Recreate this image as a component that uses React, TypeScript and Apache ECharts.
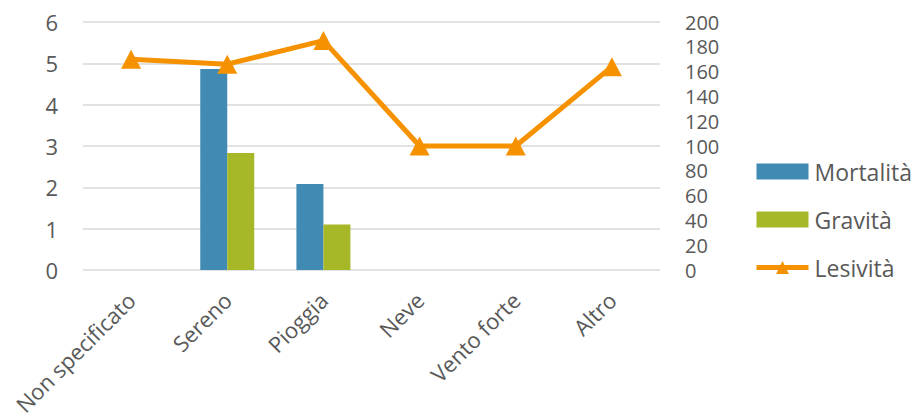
import React, { useEffect, useRef } from "react";
import * as echarts from "echarts";

const categories = ["Non specificato", "Sereno", "Pioggia", "Neve", "Vento forte", "Altro"];
const mortalita = [null, 4.86, 2.08, null, null, null];
const gravita = [null, 2.83, 1.1, null, null, null];
const lesivita = [170, 166, 185, 100, 100, 164];

const TEXT = "#595959";
const FONT = "Open Sans";

export default function App() {
  const ref = useRef<HTMLDivElement>(null);
  useEffect(() => {
    if (!ref.current) return;
    const chart = echarts.init(ref.current, null, { renderer: "svg" });
    chart.setOption({
      animation: false,
      backgroundColor: "#ffffff",
      textStyle: { fontFamily: FONT, color: TEXT },
      grid: { left: 83, right: 254, top: 22, bottom: 150, containLabel: false, outerBoundsMode: "none" },
      legend: {
        orient: "vertical",
        left: 754,
        top: 160,
        padding: 0,
        itemGap: 25,
        itemWidth: 52,
        itemHeight: 16,
        textStyle: { fontFamily: FONT, fontSize: 23, color: TEXT, padding: [0, 0, 0, 1], lineHeight: 23 },
        data: [
          { name: "Mortalità", icon: "rect" },
          { name: "Gravità", icon: "rect" },
          { name: "Lesività", lineStyle: { width: 5, color: "#F69200" } },
        ],
      },
      xAxis: {
        type: "category",
        data: categories,
        axisLine: { show: false },
        axisTick: { show: false },
        axisLabel: {
          rotate: 45,
          interval: 0,
          margin: 26,
          fontFamily: FONT,
          fontSize: 22,
          color: TEXT,
        },
      },
      yAxis: [
        {
          type: "value",
          min: 0,
          max: 6,
          interval: 1,
          axisLine: { show: false },
          axisTick: { show: false },
          axisLabel: { margin: 25, fontFamily: FONT, fontSize: 22, color: TEXT, lineHeight: 20 },
          splitLine: { lineStyle: { color: "#D9D9D9", width: 1.5 } },
        },
        {
          type: "value",
          min: 0,
          max: 200,
          interval: 20,
          position: "right",
          axisLine: { show: false },
          axisTick: { show: false },
          axisLabel: { margin: 25, fontFamily: FONT, fontSize: 20, color: TEXT, lineHeight: 20 },
          splitLine: { show: false },
        },
      ],
      series: [
        {
          name: "Mortalità",
          type: "bar",
          data: mortalita,
          barWidth: 27,
          barGap: "0%",
          itemStyle: { color: "#418AB3" },
          yAxisIndex: 0,
        },
        {
          name: "Gravità",
          type: "bar",
          data: gravita,
          barWidth: 27,
          barGap: "0%",
          itemStyle: { color: "#A6B727" },
          yAxisIndex: 0,
        },
        {
          name: "Lesività",
          type: "line",
          data: lesivita,
          yAxisIndex: 1,
          symbol: "triangle",
          symbolSize: [20, 19],
          lineStyle: { color: "#F69200", width: 5 },
          itemStyle: { color: "#F69200" },
        },
      ],
    });
    return () => chart.dispose();
  }, []);
  return (
    <div
      ref={ref}
      style={{ position: "fixed", left: 0, top: 0, width: 914, height: 420 }}
    />
  );
}
